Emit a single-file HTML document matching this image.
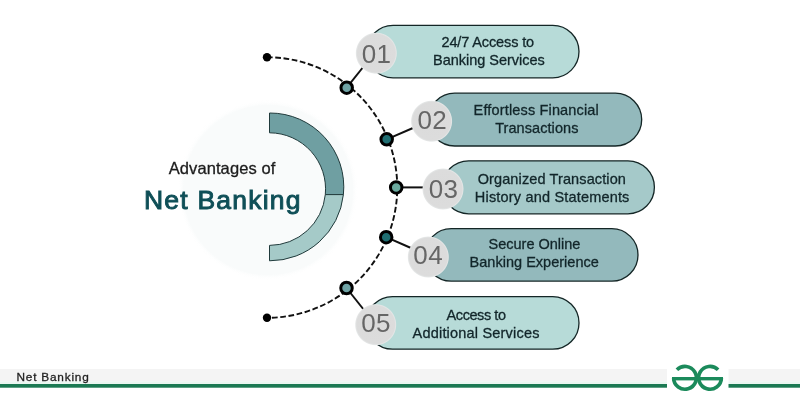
<!DOCTYPE html>
<html>
<head>
<meta charset="utf-8">
<style>
html,body{margin:0;padding:0;background:#ffffff;}
body{width:800px;height:400px;overflow:hidden;position:relative;font-family:"Liberation Sans",sans-serif;}
svg{position:absolute;left:0;top:0;will-change:transform;}
</style>
</head>
<body>
<svg width="800" height="400" viewBox="0 0 800 400">
  <defs>
    <radialGradient id="bgc" cx="0.5" cy="0.5" r="0.5">
      <stop offset="0" stop-color="#f9fbfb"/>
      <stop offset="0.94" stop-color="#f9fbfb"/>
      <stop offset="1" stop-color="#ffffff" stop-opacity="0"/>
    </radialGradient>
    <radialGradient id="num" cx="0.5" cy="0.5" r="0.5">
      <stop offset="0" stop-color="#dbdbdb"/>
      <stop offset="0.9" stop-color="#dcdcdc"/>
      <stop offset="0.95" stop-color="#e3e5e5"/>
      <stop offset="1" stop-color="#e8eaea" stop-opacity="0"/>
    </radialGradient>
  </defs>

  <!-- faint background circle -->
  <circle cx="268" cy="190" r="90" fill="url(#bgc)"/>

  <!-- half ring -->
  <path d="M269.5 113 A74 74 0 0 1 343.4 194.6 L325.3 194.6 A56.3 56.3 0 0 0 269.5 132.8 Z" fill="#6f9fa2" stroke="#203a3b" stroke-width="1"/>
  <path d="M343.4 194.6 A74 74 0 0 1 269.5 260.8 L269.5 245.4 A56.3 56.3 0 0 0 325.3 194.6 Z" fill="#a5cac8" stroke="#203a3b" stroke-width="1"/>

  <!-- titles -->
  <text x="222" y="173.7" font-size="16.5" textLength="106.5" lengthAdjust="spacing" stroke="#1c1c1c" stroke-width="0.3" fill="#1c1c1c" text-anchor="middle" font-family="Liberation Sans">Advantages of</text>
  <text x="222.2" y="209" font-size="26.5" stroke="#0f4f57" stroke-width="0.95" textLength="156.5" lengthAdjust="spacing" fill="#0f4f57" text-anchor="middle" font-family="Liberation Sans">Net Banking</text>

  <!-- dashed arc -->
  <path d="M267 57.2 A130.3 130.3 0 0 1 267 317.8" fill="none" stroke="#111" stroke-width="1.9" stroke-dasharray="5.7 2.6"/>
  <circle cx="267" cy="57.2" r="4.2" fill="#000"/>
  <circle cx="267" cy="317.8" r="4.2" fill="#000"/>

  <!-- connectors -->
  <line x1="346.7" y1="87.7" x2="364" y2="66" stroke="#111" stroke-width="2"/>
  <line x1="386.7" y1="139.3" x2="413" y2="128" stroke="#111" stroke-width="2"/>
  <line x1="396.2" y1="187.4" x2="424" y2="187.4" stroke="#111" stroke-width="2"/>
  <line x1="386.2" y1="237.2" x2="411" y2="248" stroke="#111" stroke-width="2"/>
  <line x1="346.5" y1="288" x2="364" y2="310" stroke="#111" stroke-width="2"/>

  <!-- pills -->
  <rect x="366.8" y="25.3" width="212.2" height="52.5" rx="26.25" fill="#b7dbd8" stroke="#142626" stroke-width="1.3"/>
  <rect x="428.3" y="93.2" width="213.4" height="52.8" rx="26.4" fill="#93b9bc" stroke="#142626" stroke-width="1.3"/>
  <rect x="442.2" y="160.8" width="212.2" height="53" rx="26.5" fill="#a5c9c9" stroke="#142626" stroke-width="1.3"/>
  <rect x="425" y="228.7" width="213" height="52.4" rx="26.2" fill="#93b9bc" stroke="#142626" stroke-width="1.3"/>
  <rect x="366.2" y="296.6" width="212.8" height="52.6" rx="26.3" fill="#b7dbd8" stroke="#142626" stroke-width="1.3"/>

  <!-- number circles -->
  <circle cx="376.3" cy="53.2" r="21" fill="url(#num)"/>
  <circle cx="431.6" cy="121.2" r="21" fill="url(#num)"/>
  <circle cx="443" cy="189" r="21" fill="url(#num)"/>
  <circle cx="428.3" cy="257" r="21" fill="url(#num)"/>
  <circle cx="375.7" cy="324.7" r="21" fill="url(#num)"/>

  <g font-family="Liberation Sans" font-size="26" fill="#666666" text-anchor="middle" letter-spacing="0.4">
    <text x="376.5" y="62.9">01</text>
    <text x="432.3" y="129.4">02</text>
    <text x="443.5" y="198.4">03</text>
    <text x="428.2" y="264.4">04</text>
    <text x="376.1" y="332.4">05</text>
  </g>

  <!-- nodes -->
  <circle cx="346.7" cy="87.7" r="5.75" fill="#6fa3a5" stroke="#000" stroke-width="3"/>
  <circle cx="386.7" cy="139.3" r="5.75" fill="#1f6e72" stroke="#000" stroke-width="3"/>
  <circle cx="396.2" cy="187.4" r="5.75" fill="#6aa99e" stroke="#000" stroke-width="3"/>
  <circle cx="386.2" cy="237.2" r="5.75" fill="#1f6e72" stroke="#000" stroke-width="3"/>
  <circle cx="346.5" cy="288" r="5.75" fill="#6fa3a5" stroke="#000" stroke-width="3"/>

  <!-- pill texts -->
  <g font-family="Liberation Sans" font-size="14.5" fill="#12262a" stroke="#12262a" stroke-width="0.3" text-anchor="middle" lengthAdjust="spacing">
    <text x="487.8" y="46.8" textLength="92.7" lengthAdjust="spacing">24/7 Access to</text>
    <text x="488.9" y="64.8" textLength="111.6" lengthAdjust="spacing">Banking Services</text>
    <text x="536.2" y="115" textLength="125.2" lengthAdjust="spacing">Effortless Financial</text>
    <text x="536.8" y="133" textLength="83.2" lengthAdjust="spacing">Transactions</text>
    <text x="551.8" y="184.2" textLength="148.3" lengthAdjust="spacing">Organized Transaction</text>
    <text x="552.1" y="201.9" textLength="154.5" lengthAdjust="spacing">History and Statements</text>
    <text x="534.5" y="249" textLength="91.8" lengthAdjust="spacing">Secure Online</text>
    <text x="534.2" y="267" textLength="129.2" lengthAdjust="spacing">Banking Experience</text>
    <text x="476.3" y="320" textLength="59.4" lengthAdjust="spacing">Access to</text>
    <text x="476.0" y="338" textLength="126.8" lengthAdjust="spacing">Additional Services</text>
  </g>

  <!-- footer -->
  <rect x="0" y="369" width="800" height="12.5" fill="#f4f4f4"/>
  <rect x="0" y="381.5" width="800" height="2.5" fill="#eaf7f1"/>
  <rect x="667" y="365" width="61.5" height="27" fill="#ffffff"/>
  <rect x="0" y="384" width="667" height="3.7" fill="#1b7a53"/>
  <rect x="728.5" y="384" width="71.5" height="3.7" fill="#1b7a53"/>
  <text x="16.5" y="380.5" font-family="Liberation Sans" font-size="11.8" letter-spacing="0.8" fill="#222" stroke="#222" stroke-width="0.3">Net Banking</text>

  <!-- GfG logo -->
  <g fill="none" stroke="#1b8a5b" stroke-width="3.6">
    <path d="M676.9 369.8 A11.4 11.4 0 1 1 673.6 378.1"/>
    <path d="M718.1 369.8 A11.4 11.4 0 1 0 721.4 378.1"/>
  </g>
  <rect x="672" y="377" width="51" height="3.4" fill="#1b8a5b"/>
</svg>
</body>
</html>
